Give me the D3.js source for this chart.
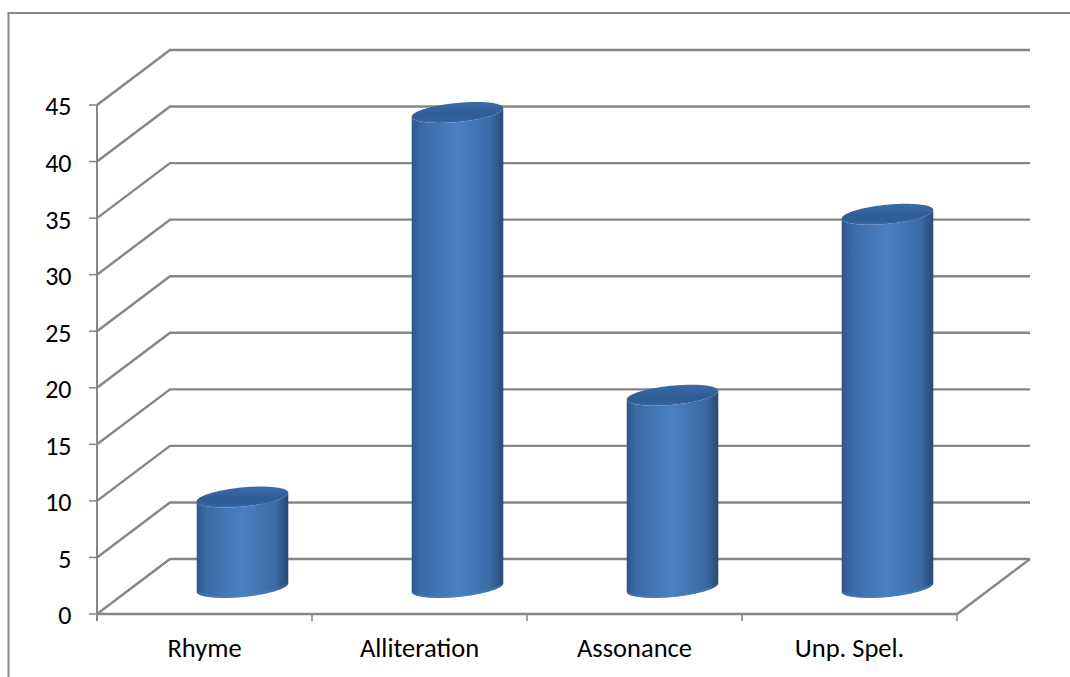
<!DOCTYPE html>
<html>
<head>
<meta charset="utf-8">
<script src="https://cdn.jsdelivr.net/npm/d3@7"></script>
<style>
html,body{margin:0;padding:0;background:#fff}
svg{display:block}
text{font-family:Carlito,"Open Sans","Noto Sans",sans-serif;fill:#000}
</style>
</head>
<body>
<svg id="chart" width="1070" height="677"></svg>
<script>
const categories = ["Rhyme", "Alliteration", "Assonance", "Unp. Spel."];
const values = [8, 42, 17, 33];
const yTicks = [0, 5, 10, 15, 20, 25, 30, 35, 40, 45];

const svg = d3.select("#chart");
const grey = "#868686";

// Front plane of the 3D box, and how far the back wall is pushed.
const x = d3.scaleBand().domain(categories).range([97, 957]);
const y = d3.scaleLinear().domain([0, 45]).range([614, 105]);
const depth = {dx: 73, dy: -55};

const defs = svg.append("defs");
const side = defs.append("linearGradient").attr("id", "cylSide");
[[0, "#2f5588"], [0.1, "#3a6ba6"], [0.5, "#4a80c0"], [0.86, "#3a6ba5"], [1, "#284a75"]]
  .forEach(([o, c]) => side.append("stop").attr("offset", o).attr("stop-color", c));
const capFill = defs.append("linearGradient").attr("id", "cylCap")
  .attr("x1", 0).attr("x2", 0).attr("y1", 0).attr("y2", 1);
[[0, "#3a6ca8"], [0.6, "#2e5c94"], [0.85, "#31609a"], [1, "#3a6ca8"]]
  .forEach(([o, c]) => capFill.append("stop").attr("offset", o).attr("stop-color", c));

// Chart frame, running off the right and bottom edges of the page
svg.append("path")
  .attr("d", "M8.5,677V13H1070")
  .attr("fill", "none").attr("stroke", grey).attr("stroke-width", 2);

// Gridlines: a short diagonal on the side wall, then along the back wall
const grid = svg.append("g").attr("fill", "none").attr("stroke", grey).attr("stroke-width", 2.4);
yTicks.forEach(t => {
  const p = d3.path();
  p.moveTo(97, y(t));
  p.lineTo(97 + depth.dx, y(t) + depth.dy);
  p.lineTo(957 + depth.dx, y(t) + depth.dy);
  grid.append("path").attr("d", p.toString());
});

// Floor edge on the right-hand side
grid.append("line")
  .attr("x1", 957).attr("y1", y(0))
  .attr("x2", 957 + depth.dx).attr("y2", y(0) + depth.dy);

// Value axis with ticks and labels
const yAxis = svg.append("g");
yAxis.append("line").attr("x1", 97).attr("x2", 97)
  .attr("y1", y(45)).attr("y2", y(0) + 7)
  .attr("stroke", grey).attr("stroke-width", 2);
yAxis.selectAll("line.tick").data(yTicks).join("line").attr("class", "tick")
  .attr("x1", 89).attr("x2", 97).attr("y1", d => y(d)).attr("y2", d => y(d))
  .attr("stroke", grey).attr("stroke-width", 1.5);
yAxis.selectAll("text").data(yTicks).join("text")
  .attr("x", 71.5).attr("y", d => y(d)).attr("dy", "0.4em")
  .attr("text-anchor", "end").attr("font-size", 26).text(d => d);

// Category axis along the front floor edge
const xAxis = svg.append("g");
xAxis.append("line").attr("x1", 97).attr("x2", 957).attr("y1", y(0)).attr("y2", y(0))
  .attr("stroke", grey).attr("stroke-width", 2.4);
xAxis.selectAll("line.tick").data(d3.range(categories.length + 1)).join("line").attr("class", "tick")
  .attr("x1", i => 97 + i * x.step()).attr("x2", i => 97 + i * x.step())
  .attr("y1", y(0)).attr("y2", y(0) + 7)
  .attr("stroke", grey).attr("stroke-width", 1.5);
xAxis.selectAll("text").data(categories).join("text")
  .attr("x", d => x(d) + x.bandwidth() / 2).attr("y", 657)
  .attr("text-anchor", "middle").attr("font-size", 26.5).text(d => d);

// Cylinders stand partway into the depth of the floor
const rx = 46, ry = 9.5, tilt = -5.6 * Math.PI / 180;
const ox = 38, oy = -26.5;

// A point on the tilted ellipse around (cx, cy) at parameter t
const rim = (cx, cy, t) => [
  cx + rx * Math.cos(t) * Math.cos(tilt) - ry * Math.sin(t) * Math.sin(tilt),
  cy + rx * Math.cos(t) * Math.sin(tilt) + ry * Math.sin(t) * Math.cos(tilt)
];
const arcSteps = d3.range(0, 49).map(k => k / 48 * Math.PI);
const line = d3.line();

const cyl = svg.append("g").selectAll("g").data(categories).join("g");
cyl.each(function (c, i) {
  const g = d3.select(this);
  const cx = x(c) + x.bandwidth() / 2 + ox;
  const base = y(0) + oy;
  const top = y(values[i]) + oy;

  // Body: lower half of the base rim, then back along the lower half of the top rim
  const lower = arcSteps.map(t => rim(cx, base, t));
  const upper = arcSteps.map(t => rim(cx, top, Math.PI - t));
  g.append("path").attr("d", line(lower.concat(upper)) + "Z").attr("fill", "url(#cylSide)");

  // Slightly brighter crescent where the base curves under the cylinder
  const inner = arcSteps.map(t => rim(cx, base - 2.5, Math.PI - t));
  g.append("path").attr("d", line(lower.concat(inner)) + "Z")
    .attr("fill", "#4d8ad2").attr("opacity", 0.3);

  // Top cap
  const cap = d3.range(0, 97).map(k => rim(cx, top, k / 96 * 2 * Math.PI));
  g.append("path").attr("d", line(cap) + "Z").attr("fill", "url(#cylCap)");
});
</script>
</body>
</html>
